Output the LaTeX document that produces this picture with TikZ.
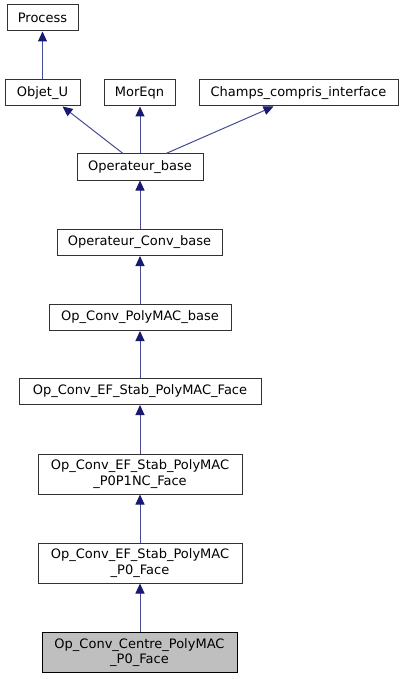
\documentclass[tikz,border=0pt]{standalone}
\usepackage{fontspec}
\setmainfont{DejaVu Sans}
\usetikzlibrary{arrows.meta,calc}
\definecolor{edgeblue}{RGB}{25,25,112}
\definecolor{edgeline}{RGB}{70,75,150}
\definecolor{boxline}{RGB}{50,50,50}
\definecolor{hlfill}{RGB}{191,191,191}
\begin{document}
\begin{tikzpicture}[x=1pt,y=-1pt,
  cls/.style={draw=boxline,line width=1pt,fill=white,inner sep=0pt,minimum height=26pt,align=center,font=\fontsize{13}{15.5}\selectfont},
  tall/.style={cls,minimum height=40pt},
  hl/.style={tall,fill=hlfill,draw=black},
  inh/.style={draw=edgeline,line width=1pt,-{Triangle[length=10pt,width=9pt,color=edgeblue,fill=edgeblue]}}]
\useasboundingbox (0,0) rectangle (403,679);
\node[cls,minimum width=71pt] (process) at (42.5,18) {Process};
\node[cls,minimum width=75pt] (objet) at (42.5,93) {Objet\_U};
\node[cls,minimum width=71pt] (moreqn) at (139.5,93) {MorEqn};
\node[cls,minimum width=199pt] (champs) at (298.5,93) {Champs\_compris\_interface};
\node[cls,minimum width=126pt] (opbase) at (140,167) {Operateur\_base};
\node[cls,minimum width=165pt] (opconv) at (139.5,242.5) {Operateur\_Conv\_base};
\node[cls,minimum width=182pt] (polymac) at (140,317.5) {Op\_Conv\_PolyMAC\_base};
\node[cls,minimum width=242pt] (efface) at (140,391.5) {Op\_Conv\_EF\_Stab\_PolyMAC\_Face};
\node[tall,minimum width=204pt] (p0p1nc) at (140,474) {Op\_Conv\_EF\_Stab\_PolyMAC\\\_P0P1NC\_Face};
\node[tall,minimum width=204pt] (p0face) at (140,563) {Op\_Conv\_EF\_Stab\_PolyMAC\\\_P0\_Face};
\node[hl,minimum width=195pt] (centre) at (139.5,652.5) {Op\_Conv\_Centre\_PolyMAC\\\_P0\_Face};
\draw[inh] (objet.north) -- (process.south);
\draw[inh] ($(opbase.north)+(-17,0)$) -- ($(objet.south)+(20,0)$);
\draw[inh] (opbase.north) -- (moreqn.south -| opbase.north);
\draw[inh] ($(opbase.north)+(26,0)$) -- ($(champs.south)+(-25,0)$);
\draw[inh] (opconv.north -| opbase.south) -- (opbase.south);
\draw[inh] (polymac.north) -- (opconv.south -| polymac.north);
\draw[inh] (efface.north) -- (polymac.south);
\draw[inh] (p0p1nc.north) -- (efface.south);
\draw[inh] (p0face.north) -- (p0p1nc.south);
\draw[inh] (centre.north -| p0face.south) -- (p0face.south);
\end{tikzpicture}
\end{document}
